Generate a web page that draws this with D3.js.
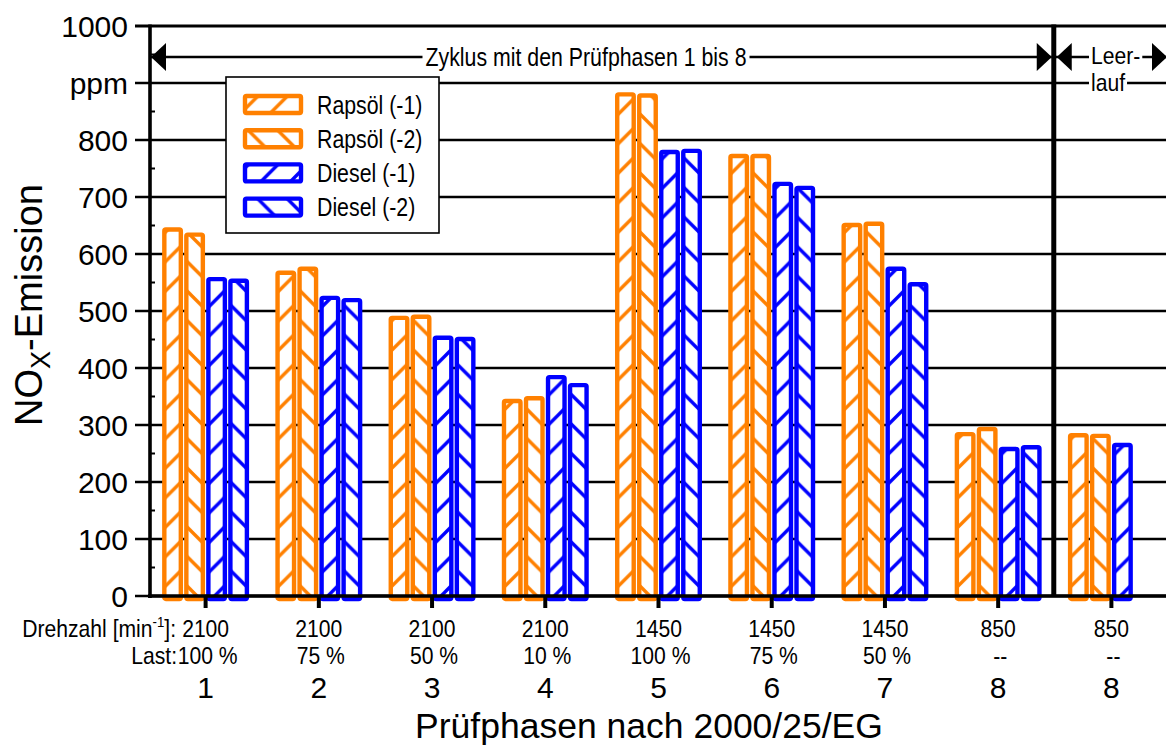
<!DOCTYPE html>
<html>
<head>
<meta charset="utf-8">
<script src="https://cdn.jsdelivr.net/npm/d3@7"></script>
<style>
  html, body { margin: 0; padding: 0; background: #fff; }
  svg { display: block; font-family: "Liberation Sans", Arial, sans-serif; }
</style>
</head>
<body>
<svg id="chart" width="1166" height="746"></svg>
<script>
// Test phases of the 2000/25/EG cycle (phase 8 repeated for the idle run)
const phases = ["1", "2", "3", "4", "5", "6", "7", "8", "8"];
const speeds = ["2100", "2100", "2100", "2100", "1450", "1450", "1450", "850", "850"];
const loads = ["100 %", "75 %", "50 %", "10 %", "100 %", "75 %", "50 %", "--", "--"];

// NOx emission in ppm per run
const seriesNames = ["Rapsöl (-1)", "Rapsöl (-2)", "Diesel (-1)", "Diesel (-2)"];
const rapsoel1 = [643, 567, 488, 342, 880, 772, 651, 284, 282];
const rapsoel2 = [634, 574, 490, 347, 878, 772, 653, 293, 281];
const diesel1 = [556, 523, 453, 384, 779, 723, 574, 258, 265];
const diesel2 = [553, 519, 451, 370, 781, 716, 547, 261, null];

const yTicks = [0, 100, 200, 300, 400, 500, 600, 700, 800, 900, 1000];
const yTickLabels = ["0", "100", "200", "300", "400", "500", "600", "700", "800", "ppm", "1000"];

const seriesValues = [rapsoel1, rapsoel2, diesel1, diesel2];
const seriesColors = ["#FF8000", "#FF8000", "#0000FF", "#0000FF"];
const seriesHatch = ["fwd", "bwd", "fwd", "bwd"];

const svg = d3.select("#chart");

const plotLeft = 150, plotTop = 26, plotBottom = 596;

const idx = d3.range(phases.length);
const x0 = d3.scaleBand().domain(idx).range([149, 1168]).paddingInner(0.222).paddingOuter(0.111);
const x1 = d3.scaleBand().domain(d3.range(seriesNames.length)).range([0, x0.bandwidth()]);
const y = d3.scaleLinear().domain([0, 1000]).range([plotBottom, plotTop]);

// hatch patterns
const defs = svg.append("defs");
const P = 29.5;
function addPattern(id, color, dir) {
  const p = defs.append("pattern").attr("id", id)
    .attr("patternUnits", "userSpaceOnUse").attr("width", P).attr("height", P);
  p.append("rect").attr("width", P).attr("height", P).attr("fill", "#fff");
  const d = dir === "fwd"
    ? `M${-P/4},${P/4} L${P/4},${-P/4} M0,${P} L${P},0 M${P*0.75},${P*1.25} L${P*1.25},${P*0.75}`
    : `M${-P/4},${P*0.75} L${P/4},${P*1.25} M0,0 L${P},${P} M${P*0.75},${-P/4} L${P*1.25},${P/4}`;
  p.append("path").attr("d", d).attr("stroke", color).attr("stroke-width", 3.4).attr("fill", "none");
}
seriesNames.forEach((s, i) => addPattern("hatch" + i, seriesColors[i], seriesHatch[i]));

// horizontal grid lines
svg.append("g").selectAll("line").data(yTicks).join("line")
  .attr("x1", 135).attr("x2", 1166)
  .attr("y1", d => y(d)).attr("y2", d => y(d))
  .attr("stroke", "#000").attr("stroke-width", d => d === 1000 ? 3.2 : 2.4);

// minor ticks on the value axis
svg.append("g").selectAll("line").data(d3.range(50, 1000, 100)).join("line")
  .attr("x1", plotLeft).attr("x2", plotLeft + 5)
  .attr("y1", d => y(d)).attr("y2", d => y(d))
  .attr("stroke", "#000").attr("stroke-width", 2);

// bars
const bw = 16.5;
const groups = svg.append("g").selectAll("g").data(idx).join("g")
  .attr("transform", i => `translate(${x0(i)},0)`);
groups.selectAll("rect")
  .data(i => seriesValues.map((vals, s) => ({ s, v: vals[i] })).filter(d => d.v != null))
  .join("rect")
  .attr("x", d => x1(d.s) + (x1.bandwidth() - bw) / 2)
  .attr("width", bw)
  .attr("y", d => y(d.v))
  .attr("height", d => y(0) - y(d.v) + 3)
  .attr("rx", 1.5)
  .attr("fill", d => `url(#hatch${d.s})`)
  .attr("stroke", d => seriesColors[d.s])
  .attr("stroke-width", 4.4)
  .attr("stroke-linejoin", "round");

// value axis line
svg.append("line").attr("x1", plotLeft).attr("x2", plotLeft).attr("y1", plotTop - 1.5).attr("y2", plotBottom + 2)
  .attr("stroke", "#000").attr("stroke-width", 3.6);

// separator between the cycle and the idle phase
const sepX = x0(8) - x0.step() * x0.paddingInner() / 2 - 1;
svg.append("line").attr("x1", sepX).attr("x2", sepX).attr("y1", plotTop - 1.5).attr("y2", plotBottom)
  .attr("stroke", "#000").attr("stroke-width", 5);

// category axis line and ticks
svg.append("line").attr("x1", plotLeft - 2).attr("x2", 1166).attr("y1", plotBottom).attr("y2", plotBottom)
  .attr("stroke", "#000").attr("stroke-width", 3.6);
svg.append("g").selectAll("line").data(idx).join("line")
  .attr("x1", i => x0(i) + x0.bandwidth() / 2).attr("x2", i => x0(i) + x0.bandwidth() / 2)
  .attr("y1", plotBottom).attr("y2", plotBottom + 12)
  .attr("stroke", "#000").attr("stroke-width", 4);

// value tick labels
svg.append("g").selectAll("text").data(yTicks).join("text")
  .attr("x", 128).attr("y", d => y(d)).attr("dy", "0.36em")
  .attr("text-anchor", "end").attr("font-size", 30)
  .text((d, i) => yTickLabels[i]);

// condensed text helper
function narrowText(parent, x, yy, anchor, size, sx) {
  return parent.append("text")
    .attr("transform", `translate(${x},${yy}) scale(${sx},1)`)
    .attr("text-anchor", anchor).attr("font-size", size);
}

// category labels: speed, load, phase
const cx = i => x0(i) + x0.bandwidth() / 2;
const lab = svg.append("g");
const rowA = 637, rowB = 664;
idx.forEach(i => {
  narrowText(lab, cx(i), rowA, "middle", 24, 0.88).text(speeds[i]);
  narrowText(lab, cx(i) + 2, rowB, "middle", 24, 0.88).text(loads[i]);
  lab.append("text").attr("x", cx(i)).attr("y", 698).attr("text-anchor", "middle")
    .attr("font-size", 30).text(phases[i]);
});
const dz = narrowText(lab, 176, rowA, "end", 24, 0.88);
dz.append("tspan").text("Drehzahl [min");
dz.append("tspan").attr("font-size", 15).attr("dy", -10).text("-1");
dz.append("tspan").attr("dy", 10).text("]:");
narrowText(lab, 177, rowB, "end", 24, 0.88).text("Last:");

// axis titles
svg.append("text").attr("x", 649).attr("y", 738).attr("text-anchor", "middle")
  .attr("font-size", 35.5).text("Prüfphasen nach 2000/25/EG");
const yt = svg.append("text").attr("transform", "translate(42,305) rotate(-90)")
  .attr("text-anchor", "middle").attr("font-size", 38);
yt.append("tspan").text("NO");
yt.append("tspan").attr("font-size", 27).attr("dy", 8).text("X");
yt.append("tspan").attr("dy", -8).text("-Emission");

// cycle annotation with arrows
const ay = 57;
const ann = svg.append("g");
function arrowLine(xa, xb) {
  ann.append("line").attr("x1", xa).attr("x2", xb).attr("y1", ay).attr("y2", ay)
    .attr("stroke", "#000").attr("stroke-width", 2.4);
}
function arrowHead(tip, dir) {
  const b = tip - dir * 15;
  ann.append("path").attr("d", `M${tip},${ay} L${b},${ay - 14} L${b},${ay + 14} Z`).attr("fill", "#000");
}
arrowLine(plotLeft, sepX - 2);
arrowHead(plotLeft + 1, -1);
arrowHead(sepX - 2, 1);
arrowLine(sepX + 2, 1167);
arrowHead(sepX + 3, -1);
arrowHead(1167, 1);

// text with a white backing so the lines break around it
function backedText(x, yy, anchor, str, padX, size, sx) {
  const g = ann.append("g");
  const r = g.append("rect").attr("fill", "#fff");
  const t = narrowText(g, x, yy, anchor, size, sx).text(str);
  const w = t.node().getComputedTextLength() * sx;
  const xl = anchor === "middle" ? x - w / 2 : (anchor === "end" ? x - w : x);
  r.attr("x", xl - padX).attr("width", w + 2 * padX).attr("y", yy - 19).attr("height", 24);
  return g;
}
backedText(586, 66, "middle", "Zyklus mit den Prüfphasen 1 bis 8", 3, 26, 0.82);
backedText(1091, 64, "start", "Leer-", 2, 24, 0.88);
backedText(1091, 91, "start", "lauf", 2, 24, 0.88);

// legend
const lg = svg.append("g");
lg.append("rect").attr("x", 226).attr("y", 77).attr("width", 213).attr("height", 156)
  .attr("fill", "#fff").attr("stroke", "#000").attr("stroke-width", 1.6);
seriesNames.forEach((s, i) => {
  const cy = 104.5 + i * 34.2;
  lg.append("rect").attr("x", 245).attr("y", cy - 8.5).attr("width", 56).attr("height", 17)
    .attr("rx", 1.5)
    .attr("fill", `url(#hatch${i})`).attr("stroke", seriesColors[i]).attr("stroke-width", 4.4);
  narrowText(lg, 317, cy + 9, "start", 26, 0.82).text(s);
});
</script>
</body>
</html>
